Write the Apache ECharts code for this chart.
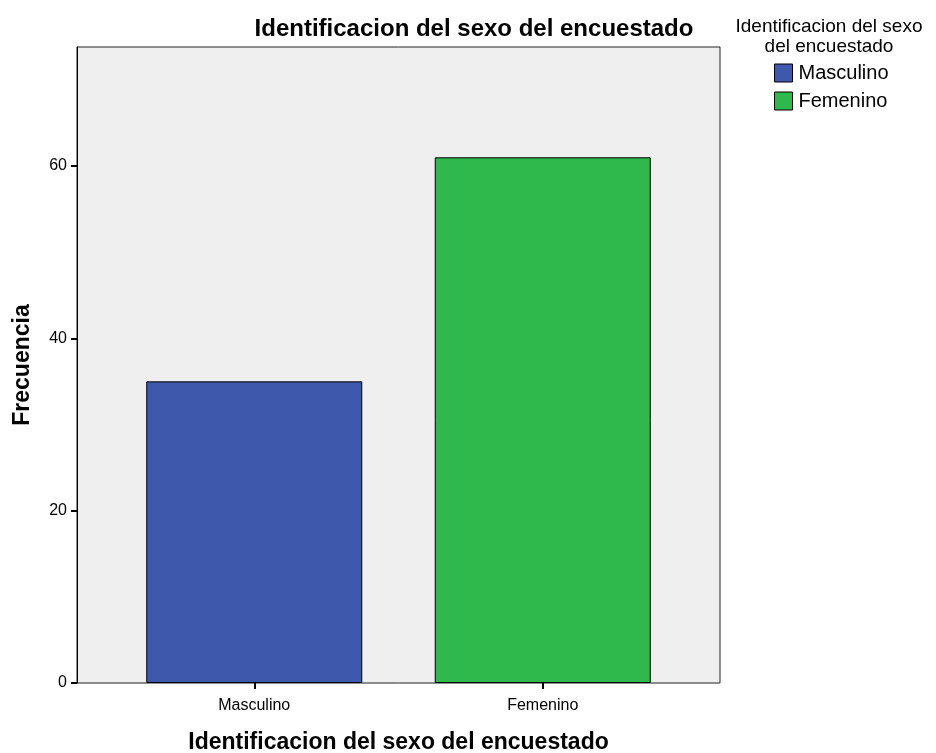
<!DOCTYPE html>
<html><head><meta charset="utf-8">
<script src="https://cdn.jsdelivr.net/npm/echarts@6/dist/echarts.min.js"></script>
<style>html,body{margin:0;padding:0;background:#fff}#c{width:936px;height:753px}</style>
</head><body><div id="c"></div>
<script>
var categories = ['Masculino', 'Femenino'];
var values = [35, 61];
var colors = ['#3e58ac', '#2fb84b'];
var yTicks = [0, 20, 40, 60];
var chartTitle = 'Identificacion del sexo del encuestado';
var legendTitle = 'Identificacion del sexo\ndel encuestado';
var xName = 'Identificacion del sexo del encuestado';
var yName = 'Frecuencia';

var F = 'Liberation Sans, Arial, sans-serif';
var series = categories.map(function (c, i) {
  return {
    type: 'bar', name: c, xAxisIndex: 1, yAxisIndex: 1,
    data: categories.map(function (_, j) { return j === i ? values[i] : '-'; }),
    barWidth: 216, barGap: '-100%',
    itemStyle: { color: colors[i], borderColor: '#000', borderWidth: 1 }
  };
});
var chart = echarts.init(document.getElementById('c'), null, { renderer: 'canvas' });
chart.setOption({
  animation: false,
  color: colors,
  title: [
    { text: chartTitle, left: 474, top: 17, textAlign: 'center', padding: 0,
      textStyle: { fontFamily: F, fontWeight: 'bold', fontSize: 24, color: '#000' } },
    { text: legendTitle, left: 829, top: 17, textAlign: 'center', padding: 0,
      textStyle: { fontFamily: F, fontWeight: 'normal', fontSize: 19, lineHeight: 20, color: '#000' } }
  ],
  legend: {
    data: categories, orient: 'vertical', left: 774, top: 63, itemGap: 8, padding: 0,
    itemWidth: 18, itemHeight: 18, icon: 'rect',
    itemStyle: { borderColor: '#000', borderWidth: 1 },
    textStyle: { fontFamily: F, fontSize: 20, color: '#000', padding: [0, 0, 0, 1] }
  },
  grid: [
    { left: 77, right: 216, top: 47, bottom: 70, outerBoundsMode: 'none', containLabel: false,
      show: true, backgroundColor: '#efefef', borderColor: '#222', borderWidth: 1 },
    { left: 110, right: 249, top: 47, bottom: 70, outerBoundsMode: 'none', containLabel: false }
  ],
  xAxis: [
    { type: 'value', gridIndex: 0, show: false },
    { type: 'category', gridIndex: 1, data: categories,
      axisLine: { show: false },
      axisTick: { show: true, alignWithLabel: true, length: 6, lineStyle: { color: '#000', width: 2 } },
      axisLabel: { fontFamily: F, fontSize: 16, color: '#000', margin: 15 },
      name: xName, nameLocation: 'middle', nameGap: 48,
      nameTextStyle: { fontFamily: F, fontWeight: 'bold', fontSize: 23, color: '#000' } }
  ],
  yAxis: [
    { type: 'value', gridIndex: 0, show: false },
    { type: 'value', gridIndex: 1, min: 0, max: 73.8, offset: 33,
      splitLine: { show: false },
      axisLine: { show: true, lineStyle: { color: '#000', width: 1 } },
      axisTick: { show: true, length: 6, customValues: yTicks, lineStyle: { color: '#000', width: 2 } },
      axisLabel: { fontFamily: F, fontSize: 16, color: '#000', margin: 10, customValues: yTicks },
      name: yName, nameLocation: 'middle', nameGap: 43,
      nameTextStyle: { fontFamily: F, fontWeight: 'bold', fontSize: 23, color: '#000' } }
  ],
  series: series
});
</script></body></html>
